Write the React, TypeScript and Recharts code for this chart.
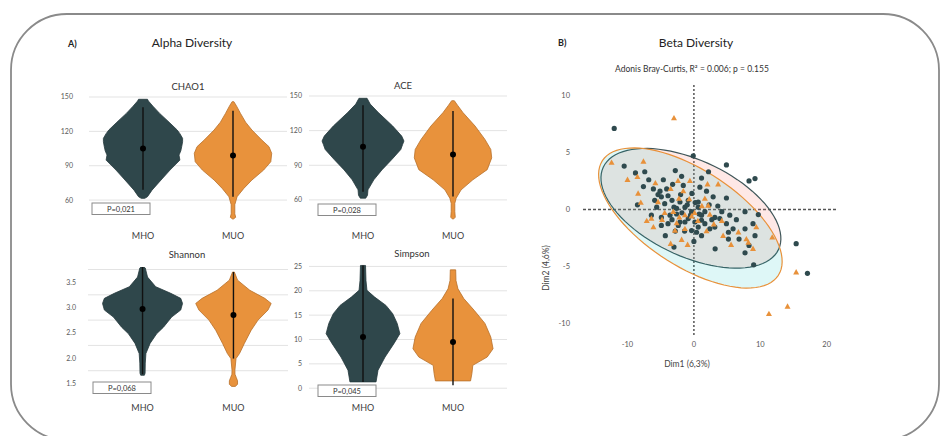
import {
  ScatterChart,
  Scatter,
  XAxis,
  YAxis,
  CartesianGrid,
  ReferenceLine,
  ReferenceDot
} from "recharts";

const W = 941;
const H = 436;

const groups = ["MHO", "MUO"];
const groupFill = ["#2f474b", "#e8923c"];
const groupStroke = ["#25393c", "#b8702a"];

// violin profiles: [value, half width in group units]
const chao1Mho = [
  [61.5, 0.02], [63, 0.05], [68.7, 0.1], [77.5, 0.2], [86.2, 0.3], [94.9, 0.41], [99.3, 0.4],
  [103, 0.42], [106.6, 0.43], [111, 0.44], [113.9, 0.44], [118, 0.41], [121.2, 0.38],
  [128, 0.29], [135.7, 0.185], [142, 0.11], [146.5, 0.06], [148, 0.05]
];
const chao1Muo = [
  [43.5, 0.005], [45, 0.03], [48, 0.02], [56, 0.02], [62.9, 0.045], [70.2, 0.12], [77.5, 0.21],
  [86.2, 0.34], [93.5, 0.42], [100.8, 0.43], [106.6, 0.4], [112.4, 0.32], [121.2, 0.21],
  [128, 0.14], [135.7, 0.083], [142, 0.04], [145.9, 0.01]
];
const aceMho = [
  [61.5, 0.03], [64, 0.05], [68.7, 0.055], [77.4, 0.12], [86, 0.21], [95, 0.32], [103.7, 0.42],
  [108, 0.44], [111, 0.455], [115.3, 0.43], [124, 0.33], [135.7, 0.17], [143, 0.08], [148, 0.045]
];
const aceMuo = [
  [43.4, 0.005], [45, 0.025], [50, 0.02], [57, 0.02], [61.5, 0.035], [68.7, 0.09], [77.4, 0.22],
  [86.2, 0.38], [96.4, 0.43], [103.7, 0.42], [112.4, 0.355], [124, 0.245], [135.7, 0.11],
  [142, 0.05], [145.9, 0.015]
];
const shannonMho = [
  [1.66, 0.02], [1.7, 0.028], [1.9, 0.03], [2.09, 0.037], [2.29, 0.083], [2.48, 0.155],
  [2.61, 0.23], [2.81, 0.32], [2.95, 0.42], [3.08, 0.44], [3.18, 0.42], [3.28, 0.31],
  [3.41, 0.145], [3.6, 0.055], [3.78, 0.03], [3.8, 0.015]
];
const shannonMuo = [
  [1.44, 0.02], [1.48, 0.045], [1.55, 0.045], [1.62, 0.03], [1.68, 0.017], [1.76, 0.016],
  [1.99, 0.028], [2.09, 0.067], [2.29, 0.12], [2.55, 0.195], [2.75, 0.27], [2.95, 0.38],
  [3.08, 0.415], [3.18, 0.345], [3.34, 0.18], [3.54, 0.045], [3.7, 0.01]
];
const simpsonMho = [
  [1.3, 0.145], [3.7, 0.167], [6.4, 0.245], [9.2, 0.345], [11.2, 0.41], [13.3, 0.38],
  [15.3, 0.33], [17, 0.255], [18.7, 0.13], [20.1, 0.044], [22.1, 0.033], [25.2, 0.028]
];
const simpsonMuo = [
  [1.5, 0.195], [3, 0.21], [4.7, 0.22], [6.4, 0.38], [8.1, 0.445], [10.5, 0.42],
  [13.3, 0.355], [16, 0.235], [18.4, 0.12], [20.4, 0.055], [22.1, 0.033], [24.3, 0.03]
];

// medians and whisker ranges per group
const chao1Medians = [105, 99];
const chao1Ranges = [[69, 141], [63, 138]];
const aceMedians = [106, 99.3];
const aceRanges = [[67, 142], [63, 137]];
const shannonMedians = [2.97, 2.85];
const shannonRanges = [[1.68, 3.8], [1.99, 3.7]];
const simpsonMedians = [10.5, 9.5];
const simpsonRanges = [[1.3, 25.2], [0.6, 18.4]];

// axis ticks (labelled) and grid lines
const countTicks = [60, 90, 120, 150];
const countGrid = [45, 60, 75, 90, 105, 120, 135, 150];
const shannonTicks = [1.5, 2.0, 2.5, 3.0, 3.5];
const shannonGrid = [1.5, 1.75, 2, 2.25, 2.5, 2.75, 3, 3.25, 3.5, 3.75];
const simpsonTicks = [0, 5, 10, 15, 20, 25];
const simpsonGrid = [0, 2.5, 5, 7.5, 10, 12.5, 15, 17.5, 20, 22.5, 25];

// beta diversity ordination (Dim1, Dim2)
const mhoPoints = [
  [-12.0, 7.1], [-0.1, 4.7], [4.9, 3.9], [2.2, 3.3], [8.3, 2.5], [9.2, 2.7], [9.7, -0.45],
  [7.7, -0.2], [-10.5, 3.8], [-8.8, 3.2], [-7.4, 3.3], [-8.5, 0.4], [-1.85, 2.9], [-6.8, 2.6],
  [-6.1, 1.8], [1.15, 2.75], [0.9, 1.95], [2.9, 1.1], [4.9, 1.0], [5.4, -0.5], [-4.3, -2.3],
  [-3.0, -3.3], [3.2, -3.45], [7.7, -3.8], [8.3, -3.15], [9.0, -4.85], [15.4, -3.0],
  [17.1, -5.6], [8.9, -1.25], [7.7, -1.7], [5.2, -2.6], [9.2, -2.3], [-5.1, 1.6], [-4.1, 1.8],
  [-4.9, 1.1], [-5.9, 0.8], [-3.9, 1.2], [-3.3, 0.8], [-4.4, 0.5], [-5.6, 0.2], [-3.0, 0.2],
  [-2.1, 0.65], [-1.6, 2.1], [-6.4, -0.5], [-4.9, -0.7], [-3.6, -0.5], [-2.6, -0.4],
  [-1.35, 0.2], [-0.35, -0.2], [0.65, 0.2], [1.15, -0.5], [-0.85, -0.8], [0.15, -1.1],
  [-2.1, -1.1], [0.65, 0.65], [-0.85, 0.8], [1.65, -0.2], [3.15, -0.7], [3.9, -0.8],
  [1.15, -0.95], [1.65, -1.25], [2.4, -1.7], [3.15, -1.55], [4.9, -1.25], [5.2, -2.0],
  [5.9, -1.7], [0.4, -2.0], [1.15, -2.3], [-3.9, -1.25], [-2.35, -1.4], [-1.35, -1.1],
  [-0.35, -1.85], [0.65, -1.55], [-4.9, -1.4], [-2.6, 0.1], [-1.8, -0.3], [-1.0, 0.4],
  [-0.5, -0.5], [0.2, 0.6], [-3.3, -0.9], [-2.0, 1.3], [-0.3, 1.4], [0.8, -0.4], [2.3, 0.4],
  [2.7, -0.9], [-5.4, 1.3], [-7.6, 2.0], [-4.6, 2.6], [-3.2, 2.2], [-2.8, 3.4], [1.9, 1.6],
  [3.6, 0.3], [4.2, -0.2], [-1.4, -1.9], [-2.8, -1.9], [6.4, -0.9], [6.8, -2.6], [0.0, -2.8]
];
const muoPoints = [
  [-3.0, 8.0], [-12.4, 4.1], [-7.6, 4.2], [-10.0, 2.6], [-8.5, 2.85], [-8.4, 1.4], [-0.6, 2.5],
  [3.65, 2.2], [2.05, 2.2], [-7.1, -1.0], [-6.1, -1.55], [-3.5, -3.0], [-0.95, -3.1],
  [-1.85, -2.65], [8.9, -3.45], [11.8, -2.45], [15.4, -5.5], [14.1, -8.5], [11.3, -9.15],
  [7.9, -2.6], [8.2, -2.9], [5.6, -3.1], [6.7, -2.0], [-2.25, 0.95], [-1.35, -0.5],
  [-0.35, -0.6], [-4.4, -0.3], [-3.1, -0.2], [-6.4, -0.8], [-2.2, -0.7], [-5.4, 0.65],
  [1.65, 0.95], [2.15, 0.35], [2.4, -0.45], [4.4, -2.3], [9.4, -1.55], [-2.85, -1.85],
  [-1.35, -1.7], [0.1, -0.3], [0.6, -1.0], [-0.7, 0.9], [1.2, 0.3], [-1.6, 1.6], [-5.8, 2.3],
  [-3.5, 1.8], [-2.4, 2.5], [3.0, -1.3], [1.9, -1.9], [-2.6, -1.2], [-4.8, -0.9], [4.2, -1.0],
  [-8.0, 0.6]
];
// confidence ellipses: centre and two conjugate half-axes in (Dim1, Dim2) units
const mhoEllipse = { center: [-0.45, 0.1], axisA: [13.2, -3.6], axisB: [-3.05, -3.81] };
const muoEllipse = { center: [-0.53, -0.75], axisA: [13.25, -5.02], axisB: [-3.93, -3.53] };
const dimTicksX = [-10, 0, 10, 20];
const dimTicksY = [-10, -5, 0, 5, 10];

type Box = { left: number; top: number; right: number; bottom: number };

const Empty = () => <g />;

function violinOutline(profile: number[][], center: number) {
  const right = profile.map(([v, w]) => ({ x: center + w, y: v }));
  const left = [...profile].reverse().map(([v, w]) => ({ x: center - w, y: v }));
  return [...right, ...left];
}

function ellipseOutline(e: { center: number[]; axisA: number[]; axisB: number[] }) {
  const pts = [];
  for (let k = 0; k < 90; k++) {
    const t = (k / 90) * Math.PI * 2;
    pts.push({
      x: e.center[0] + Math.cos(t) * e.axisA[0] + Math.sin(t) * e.axisB[0],
      y: e.center[1] + Math.cos(t) * e.axisA[1] + Math.sin(t) * e.axisB[1]
    });
  }
  return pts;
}

function ViolinPanel(props: {
  box: Box;
  domain: number[];
  ticks: number[];
  grid: number[];
  profiles: number[][][];
  medians: number[];
  ranges: number[][];
  tickGap: number;
  labelGap: number;
  fmt?: (v: number) => string;
}) {
  const { box, domain, ticks, grid, profiles, medians, ranges, tickGap, labelGap, fmt } = props;
  return (
    <div style={{ position: "absolute", left: 0, top: 0 }}>
      <ScatterChart
        width={W}
        height={H}
        margin={{ left: box.left - 30, top: box.top, right: W - box.right, bottom: H - box.bottom - 20 }}
      >
        <CartesianGrid vertical={false} horizontalValues={grid} stroke="#e3e3e3" />
        <XAxis
          type="number"
          dataKey="x"
          domain={[0.4, 2.6]}
          ticks={[1, 2]}
          tickFormatter={(v: number) => groups[v - 1]}
          axisLine={false}
          tickLine={false}
          height={20}
          tickMargin={labelGap}
          allowDataOverflow
          tick={{ fontSize: 9, fill: "#404040" }}
        />
        <YAxis
          type="number"
          dataKey="y"
          domain={domain}
          ticks={ticks}
          tickFormatter={fmt}
          width={30}
          axisLine={false}
          tickLine={false}
          tickMargin={tickGap}
          allowDataOverflow
          tick={{ fontSize: 7, fill: "#595959" }}
        />
        {profiles.map((p, i) => (
          <Scatter
            key={groups[i]}
            data={violinOutline(p, i + 1)}
            shape={Empty}
            line={{ fill: groupFill[i], stroke: groupStroke[i], strokeWidth: 0.8 }}
            lineJointType="linearClosed"
            isAnimationActive={false}
          />
        ))}
        {ranges.map(([lo, hi], i) => (
          <Scatter
            key={"r" + i}
            data={[{ x: i + 1, y: lo }, { x: i + 1, y: hi }]}
            shape={Empty}
            line={{ stroke: "#111", strokeWidth: 1.4 }}
            isAnimationActive={false}
          />
        ))}
        {medians.map((m, i) => (
          <ReferenceDot key={"m" + i} x={i + 1} y={m} r={3} fill="#000" stroke="none" />
        ))}
      </ScatterChart>
    </div>
  );
}

const Circle = (p: any) => <circle cx={p.cx} cy={p.cy} r={2.6} fill="#2f4a4e" />;
const Triangle = (p: any) => (
  <path
    d={`M${p.cx},${p.cy - 3.2}L${p.cx + 3},${p.cy + 2.2}L${p.cx - 3},${p.cy + 2.2}Z`}
    fill="#e8913a"
  />
);

function BetaPanel() {
  const box = { left: 583, top: 85, right: 838, bottom: 335 };
  return (
    <div style={{ position: "absolute", left: 0, top: 0 }}>
      <ScatterChart
        width={W}
        height={H}
        margin={{ left: box.left - 24, top: box.top, right: W - box.right, bottom: H - box.bottom - 20 }}
      >
        <XAxis
          type="number"
          dataKey="x"
          domain={[-16.7, 21.7]}
          ticks={dimTicksX}
          axisLine={false}
          tickLine={false}
          height={20}
          tickMargin={1}
          allowDataOverflow
          tick={{ fontSize: 7.5, fill: "#595959" }}
        />
        <YAxis
          type="number"
          dataKey="y"
          domain={[-11, 10.9]}
          ticks={dimTicksY}
          width={24}
          axisLine={false}
          tickLine={false}
          tickMargin={7}
          allowDataOverflow
          tick={{ fontSize: 7.5, fill: "#595959" }}
        />
        <Scatter
          data={ellipseOutline(mhoEllipse)}
          shape={Empty}
          line={{ fill: "rgba(248,118,109,0.17)", stroke: "#3f5659", strokeWidth: 1.2 }}
          lineJointType="linearClosed"
          isAnimationActive={false}
        />
        <Scatter
          data={ellipseOutline(muoEllipse)}
          shape={Empty}
          line={{ fill: "rgba(0,191,196,0.13)", stroke: "#e8913a", strokeWidth: 1.2 }}
          lineJointType="linearClosed"
          isAnimationActive={false}
        />
        <ReferenceLine x={0} stroke="#555" strokeDasharray="2 2" strokeWidth={1.5} />
        <ReferenceLine y={0} stroke="#555" strokeDasharray="3 2" strokeWidth={1.5} />
        <Scatter
          data={mhoPoints.map(([x, y]) => ({ x, y }))}
          shape={Circle}
          isAnimationActive={false}
        />
        <Scatter
          data={muoPoints.map(([x, y]) => ({ x, y }))}
          shape={Triangle}
          isAnimationActive={false}
        />
      </ScatterChart>
    </div>
  );
}

const pBoxes = [
  { x: 92, y: 203, text: "P=0,021" },
  { x: 318, y: 204, text: "P=0,028" },
  { x: 93, y: 382, text: "P=0,068" },
  { x: 318, y: 385, text: "P=0,045" }
];

const panelTitles = [
  { x: 188, y: 87, text: "CHAO1" },
  { x: 403, y: 86, text: "ACE" },
  { x: 187, y: 255, text: "Shannon" },
  { x: 412, y: 254, text: "Simpson" }
];

function Annotations() {
  return (
    <svg
      width={W}
      height={H}
      style={{ position: "absolute", left: 0, top: 0, pointerEvents: "none" }}
    >
      <rect x={11} y={14} width={928} height={426} rx={56} fill="none" stroke="#8a8a8a" strokeWidth={1.8} />
      <text x={68} y={47} fontSize={9} fontWeight={700} fill="#222">A)</text>
      <text x={192} y={47} fontSize={12} textAnchor="middle" fill="#222">Alpha Diversity</text>
      <text x={558} y={46} fontSize={9} fontWeight={700} fill="#222">B)</text>
      <text x={696} y={47} fontSize={12} textAnchor="middle" fill="#222">Beta Diversity</text>
      <text x={692} y={72} fontSize={8.5} textAnchor="middle" fill="#333">
        Adonis Bray-Curtis, R² = 0.006; p = 0.155
      </text>
      {panelTitles.map((t) => (
        <text key={t.text} x={t.x} y={t.y + 3} fontSize={9.5} textAnchor="middle" fill="#333">
          {t.text}
        </text>
      ))}
      {pBoxes.map((b) => (
        <g key={b.text + b.x + b.y}>
          <rect x={b.x} y={b.y} width={58} height={11.5} fill="#fff" stroke="#8a8a8a" strokeWidth={1} />
          <text x={b.x + 29} y={b.y + 8.6} fontSize={7.5} textAnchor="middle" fill="#333">
            {b.text}
          </text>
        </g>
      ))}
      <text x={687} y={367} fontSize={8.5} textAnchor="middle" fill="#444">Dim1 (6,3%)</text>
      <text
        x={0}
        y={0}
        fontSize={8.5}
        textAnchor="middle"
        fill="#444"
        transform="translate(549 268) rotate(-90)"
      >
        Dim2 (4,6%)
      </text>
    </svg>
  );
}

export default function App() {
  return (
    <div
      style={{
        position: "absolute",
        left: 0,
        top: 0,
        width: W,
        height: H,
        background: "#fff",
        fontFamily: "Lato, 'Liberation Sans', sans-serif",
        overflow: "hidden"
      }}
    >
      <ViolinPanel
        box={{ left: 89, top: 97, right: 287, bottom: 223 }}
        domain={[40, 150]}
        ticks={countTicks}
        grid={countGrid}
        profiles={[chao1Mho, chao1Muo]}
        medians={chao1Medians}
        ranges={chao1Ranges}
        tickGap={10}
        labelGap={4}
      />
      <ViolinPanel
        box={{ left: 309, top: 96, right: 507, bottom: 223 }}
        domain={[40, 150]}
        ticks={countTicks}
        grid={countGrid}
        profiles={[aceMho, aceMuo]}
        medians={aceMedians}
        ranges={aceRanges}
        tickGap={1}
        labelGap={4}
      />
      <ViolinPanel
        box={{ left: 88, top: 267, right: 288, bottom: 396 }}
        domain={[1.25, 3.8]}
        ticks={shannonTicks}
        grid={shannonGrid}
        profiles={[shannonMho, shannonMuo]}
        medians={shannonMedians}
        ranges={shannonRanges}
        tickGap={6}
        labelGap={3}
        fmt={(v: number) => v.toFixed(1)}
      />
      <ViolinPanel
        box={{ left: 309, top: 264, right: 507, bottom: 396 }}
        domain={[-1.6, 25.5]}
        ticks={simpsonTicks}
        grid={simpsonGrid}
        profiles={[simpsonMho, simpsonMuo]}
        medians={simpsonMedians}
        ranges={simpsonRanges}
        tickGap={1}
        labelGap={3}
      />
      <BetaPanel />
      <Annotations />
    </div>
  );
}
